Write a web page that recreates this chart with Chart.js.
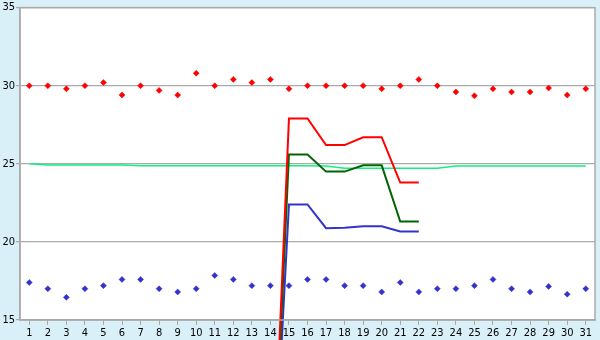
<!DOCTYPE html>
<html>
<head>
<meta charset="utf-8">
<script src="https://cdn.jsdelivr.net/npm/chart.js@4"></script>
<style>
  html, body { margin: 0; padding: 0; background: #daf0f8; }
  #wrap { width: 600px; height: 340px; }
</style>
</head>
<body>
<div id="wrap"><canvas id="chart" width="600" height="340"></canvas></div>
<script>
/* ---------- data ---------- */
const DAYS = ['1','2','3','4','5','6','7','8','9','10','11','12','13','14','15','16',
              '17','18','19','20','21','22','23','24','25','26','27','28','29','30','31'];

const RED_PTS  = [30.0, 30.0, 29.8, 30.0, 30.2, 29.4, 30.0, 29.7, 29.4, 30.8, 30.0,
                  30.4, 30.2, 30.4, 29.8, 30.0, 30.0, 30.0, 30.0, 29.8, 30.0, 30.4,
                  30.0, 29.6, 29.35, 29.8, 29.6, 29.6, 29.85, 29.4, 29.8];
const BLUE_PTS = [17.4, 17.0, 16.45, 17.0, 17.2, 17.6, 17.6, 17.0, 16.8, 17.0, 17.85,
                  17.6, 17.2, 17.2, 17.2, 17.6, 17.6, 17.2, 17.2, 16.8, 17.4, 16.8,
                  17.0, 17.0, 17.2, 17.6, 17.0, 16.8, 17.15, 16.65, 17.0];
const MID_LINE = [25.0, 24.93, 24.93, 24.93, 24.93, 24.93, 24.87, 24.87, 24.87, 24.87,
                  24.87, 24.87, 24.87, 24.87, 24.87, 24.87, 24.86, 24.72, 24.72, 24.72,
                  24.72, 24.72, 24.72, 24.86, 24.86, 24.86, 24.86, 24.86, 24.86, 24.86, 24.86];
const N = null;
const RED_LINE   = [N,N,N,N,N,N,N,N,N,N,N,N,N, 0, 27.9, 27.9, 26.2, 26.2, 26.7, 26.7, 23.8, 23.8, N,N,N,N,N,N,N,N,N];
const GREEN_LINE = [N,N,N,N,N,N,N,N,N,N,N,N,N, 0, 25.6, 25.6, 24.5, 24.5, 24.9, 24.9, 21.3, 21.3, N,N,N,N,N,N,N,N,N];
const BLUE_LINE  = [N,N,N,N,N,N,N,N,N,N,N,N,N, 0, 22.4, 22.4, 20.88, 20.9, 21.0, 21.0, 20.67, 20.67, N,N,N,N,N,N,N,N,N];

const Y_MIN = 15, Y_MAX = 35, Y_STEP = 5;

/* ---------- colours ---------- */
const COLORS = {
  bg    : '#daf0f8',
  plot  : '#ffffff',
  frame : '#aaaaaa',
  red   : '#ff0000',
  green : '#006400',
  blue  : '#3333cc',
  mid   : '#11f080'
};
const FONT = { family: "'DejaVu Sans Condensed', 'DejaVu Sans', sans-serif", size: 11 };

/* ---------- background + frame plugin ---------- */
const framePlugin = {
  id: 'frame',
  beforeDraw (chart) {
    const { ctx, chartArea: a } = chart;
    ctx.save();
    ctx.fillStyle = COLORS.bg;
    ctx.fillRect(0, 0, chart.width, chart.height);
    ctx.fillStyle = COLORS.plot;
    ctx.fillRect(a.left, a.top, a.right - a.left, a.bottom - a.top);
    ctx.restore();
  },
  afterDraw (chart) {
    const { ctx, chartArea: a } = chart;
    ctx.save();
    ctx.strokeStyle = COLORS.frame;
    ctx.lineWidth = 1.5;
    ctx.strokeRect(a.left, a.top, a.right - a.left, a.bottom - a.top);
    ctx.restore();
  }
};

const lineDs = (data, color, width) => ({
  type: 'line', data, borderColor: color, backgroundColor: color,
  borderWidth: width, pointRadius: 0, tension: 0, fill: false,
  spanGaps: false, clip: false
});
const ptsDs = (data, color) => ({
  type: 'line', data, showLine: false, borderColor: color, backgroundColor: color,
  pointStyle: 'rectRot', pointRadius: 3, pointBorderWidth: 0.5
});

new Chart(document.getElementById('chart'), {
  type: 'line',
  data: {
    labels: DAYS,
    datasets: [
      lineDs(RED_LINE,   COLORS.red,   2),
      lineDs(GREEN_LINE, COLORS.green, 2),
      lineDs(BLUE_LINE,  COLORS.blue,  2),
      lineDs(MID_LINE,   COLORS.mid,   1.5),
      ptsDs(RED_PTS,  COLORS.red),
      ptsDs(BLUE_PTS, COLORS.blue)
    ]
  },
  options: {
    responsive: false,
    animation: false,
    layout: { padding: { top: 5, right: 5, left: 0, bottom: 0 } },
    plugins: { legend: { display: false }, tooltip: { enabled: false } },
    scales: {
      x: {
        offset: true,
        grid: { drawOnChartArea: false, color: COLORS.frame, tickLength: 5 },
        border: { color: COLORS.frame, width: 1.5 },
        ticks: { color: '#000', font: FONT, padding: 2, maxRotation: 0, autoSkip: false },
        afterFit: s => { s.height = 20; }
      },
      y: {
        min: Y_MIN, max: Y_MAX,
        grid: { color: COLORS.frame, lineWidth: 1.2, tickLength: 4 },
        border: { color: COLORS.frame, width: 1.5 },
        ticks: { stepSize: Y_STEP, color: '#000', font: FONT, padding: 1 },
        afterFit: s => { s.width = 20; }
      }
    }
  },
  plugins: [framePlugin]
});
</script>
</body>
</html>
